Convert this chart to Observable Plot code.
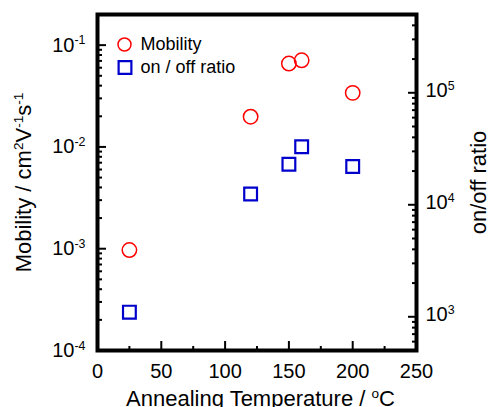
<!DOCTYPE html>
<html><head><meta charset="utf-8">
<script src="https://cdn.jsdelivr.net/npm/d3@7"></script>
<script src="https://cdn.jsdelivr.net/npm/@observablehq/plot@0.6"></script>
<style>html,body{margin:0;padding:0;background:#fff;}</style>
</head><body><div id="chart"></div>
<script>
// ---- data ----
const temperature = [25, 120, 150, 160, 200];
const mobility = [0.00097, 0.0198, 0.066, 0.071, 0.034];
const onOffRatio = [1100, 12500, 23000, 33000, 22000];
const xTicks = [0, 50, 100, 150, 200, 250];
const xMinorTicks = [25, 75, 125, 175, 225];
const mobilityTicks = [1e-4, 1e-3, 1e-2, 1e-1];
const ratioTicks = [1e3, 1e4, 1e5];
const legendLabels = ["Mobility", "on / off ratio"];
const xTitle = "Annealing Temperature / ^{o}C";
const yTitle = "Mobility / cm^{2}V^{-1}s^{-1}";
const y2Title = "on/off ratio";
const mobDomain = [1e-4, 0.2];
const ratioDomain = [500, 5e5];

// ---- secondary-axis mapping ----
const L0 = Math.log10(mobDomain[0]), L1 = Math.log10(mobDomain[1]);
const R0 = Math.log10(ratioDomain[0]), R1 = Math.log10(ratioDomain[1]);
const toLeft = r => Math.pow(10, L0 + (Math.log10(r) - R0) * (L1 - L0) / (R1 - R0));
const fromLeft = m => Math.pow(10, R0 + (Math.log10(m) - L0) * (R1 - R0) / (L1 - L0));

function minorTicks(lo, hi) {
  const out = [];
  for (let d = Math.floor(Math.log10(lo)); d <= Math.ceil(Math.log10(hi)); d++)
    for (let k = 2; k <= 9; k++) { const v = k * Math.pow(10, d); if (v >= lo * 0.999 && v <= hi * 1.001) out.push(v); }
  return out;
}
const mobMinor = minorTicks(mobDomain[0], mobDomain[1]);
const ratioMinor = minorTicks(ratioDomain[0], ratioDomain[1]).map(toLeft);
const ratioMajor = ratioTicks.map(toLeft);

const data = temperature.map((t, i) => ({t, mobility: mobility[i], ratio: onOffRatio[i]}));
const expFmt = v => `10^{${Math.round(Math.log10(v))}}`;

const RED = "#ff0000", BLUE = "#0000cc";
const font = "'Liberation Sans', Arial, Helvetica, sans-serif";

const plot = Plot.plot({
  width: 488, height: 407,
  marginLeft: 97, marginRight: 72, marginTop: 14, marginBottom: 57,
  style: {fontFamily: font, fontSize: "20px", color: "#000", background: "#fff", overflow: "visible"},
  x: {domain: [0, 250]},
  y: {type: "log", domain: mobDomain},
  marks: [
    // bottom axis
    Plot.axisX(xMinorTicks, {tickSize: -4, strokeWidth: 2, fill: "none", label: null}),
    Plot.axisX(xTicks, {tickSize: -9, strokeWidth: 2, fill: "none", label: null}),
    Plot.axisX(xTicks, {tickSize: 0, tickPadding: 13, label: null, fontSize: 20, tickFormat: d => String(d)}),
    // left axis (mobility)
    Plot.axisY(mobMinor, {anchor: "left", tickSize: -5, strokeWidth: 2, fill: "none", label: null}),
    Plot.axisY(mobilityTicks, {anchor: "left", tickSize: -9, strokeWidth: 2, fill: "none", label: null}),
    Plot.text(mobilityTicks, {y: d => d, frameAnchor: "left", dx: -12, textAnchor: "end", lineAnchor: "middle", fontSize: 20, text: expFmt}),
    // right axis (on/off ratio)
    Plot.axisY(ratioMinor, {anchor: "right", tickSize: -5, strokeWidth: 2, fill: "none", label: null}),
    Plot.axisY(ratioMajor, {anchor: "right", tickSize: -9, strokeWidth: 2, fill: "none", label: null}),
    Plot.text(ratioMajor, {y: d => d, frameAnchor: "right", dx: 9, dy: -2, textAnchor: "start", lineAnchor: "middle", fontSize: 20, text: m => expFmt(fromLeft(m))}),
    Plot.frame({stroke: "#000", strokeWidth: 4}),
    // data
    Plot.dot(data, {x: "t", y: "mobility", r: 7.2, stroke: RED, strokeWidth: 1.5, fill: "none"}),
    Plot.dot(data, {x: "t", y: d => toLeft(d.ratio), symbol: "square", r: 7.2, stroke: BLUE, strokeWidth: 2.2, fill: "none"}),
    // legend
    Plot.dot([legendLabels[0]], {frameAnchor: "top-left", dx: 27, dy: 30, r: 6.5, stroke: RED, strokeWidth: 1.5, fill: "none"}),
    Plot.dot([legendLabels[1]], {frameAnchor: "top-left", dx: 27.5, dy: 53, r: 7.2, symbol: "square", stroke: BLUE, strokeWidth: 2.2, fill: "none"}),
    Plot.text([legendLabels[0]], {text: d => d, frameAnchor: "top-left", dx: 43, dy: 30, textAnchor: "start", lineAnchor: "middle", fontSize: 18}),
    Plot.text([legendLabels[1]], {text: d => d, frameAnchor: "top-left", dx: 43, dy: 53, textAnchor: "start", lineAnchor: "middle", fontSize: 18}),
    // titles
    Plot.text([xTitle], {text: d => d, frameAnchor: "bottom", dx: 3.5, dy: 55, textAnchor: "middle", lineAnchor: "bottom", fontSize: 22}),
    Plot.text([yTitle], {text: d => d, frameAnchor: "left", dx: -66.5, rotate: -90, textAnchor: "middle", lineAnchor: "bottom", fontSize: 22}),
    Plot.text([y2Title], {text: d => d, frameAnchor: "right", dx: 69, rotate: -90, textAnchor: "middle", lineAnchor: "bottom", fontSize: 22})
  ]
});
document.getElementById("chart").appendChild(plot);

// render "^{...}" as superscript tspans (real text)
const SVGNS = "http://www.w3.org/2000/svg";
plot.querySelectorAll("text").forEach(t => {
  const s = t.textContent;
  if (!s.includes("^{")) return;
  const fs = parseFloat(getComputedStyle(t).fontSize) || 20;
  const shift = +(fs * 0.36).toFixed(2);
  while (t.firstChild) t.removeChild(t.firstChild);
  const re = /\^\{([^}]*)\}/g;
  let last = 0, m, raised = false;
  const add = (txt, sup) => {
    const ts = document.createElementNS(SVGNS, "tspan");
    if (sup) {
      ts.setAttribute("font-size", (fs * 0.62).toFixed(1));
      ts.setAttribute("dy", `${-shift}px`);
      raised = true;
    } else if (raised) {
      ts.setAttribute("dy", `${shift}px`);
      raised = false;
    }
    ts.textContent = txt;
    t.appendChild(ts);
  };
  while ((m = re.exec(s))) {
    if (m.index > last) add(s.slice(last, m.index), false);
    add(m[1], true);
    last = re.lastIndex;
  }
  if (last < s.length) add(s.slice(last), false);
});
</script>
</body></html>
